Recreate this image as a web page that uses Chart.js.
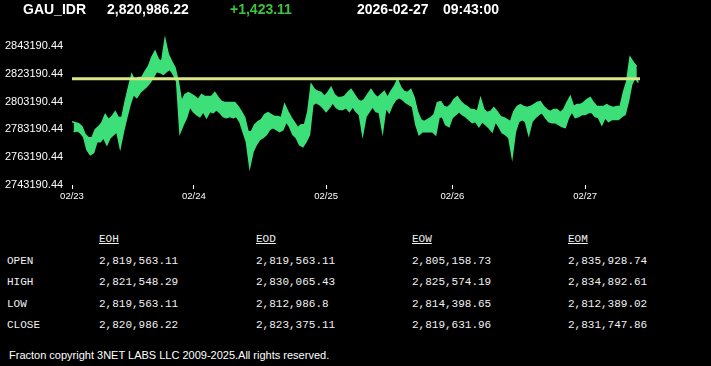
<!DOCTYPE html>
<html>
<head>
<meta charset="utf-8">
<title>GAU_IDR</title>
<script src="https://cdn.jsdelivr.net/npm/chart.js@4/dist/chart.umd.min.js"></script>
<style>
  html, body { margin: 0; padding: 0; background: #000; width: 711px; height: 366px; overflow: hidden; }
  body { position: relative; font-family: "Liberation Sans", Arial, sans-serif; color: #fff; }
  #chart { position: absolute; left: 0; top: 0; }
  .head { position: absolute; top: 2px; font-size: 14px; font-weight: bold; line-height: 14px; white-space: nowrap; }
  .cell { position: absolute; font-family: "Liberation Mono", "DejaVu Sans Mono", monospace; font-size: 11px; line-height: 11px; white-space: nowrap; color: #f2f2f2; }
  .cell.title { text-decoration: underline; }
  #footer { position: absolute; left: 9px; top: 350px; font-size: 11px; line-height: 11px; white-space: nowrap; }
</style>
</head>
<body>
<canvas id="chart" width="711" height="213"></canvas>
<div id="header"></div>
<div id="table"></div>
<div id="footer">Fracton copyright 3NET LABS LLC 2009-2025.All rights reserved.</div>

<script>
// Quote header
const symbol = 'GAU_IDR';
const lastPrice = '2,820,986.22';
const change = '+1,423.11';
const quoteDate = '2026-02-27';
const quoteTime = '09:43:00';

// Price band, read per slice of the chart: high and low of each slice
const sliceHigh = [
  2788750, 2788030, 2787310, 2785140, 2779370, 2777200, 2777200, 2782980, 2785140, 2788030,
  2793810, 2790200, 2792360, 2795970, 2791640, 2791640, 2803190, 2813300, 2822690, 2817630,
  2820520, 2820520, 2824850, 2828460, 2834960, 2839290, 2833520, 2832070, 2847960, 2837130,
  2832070, 2827740, 2817630, 2803190, 2808250, 2809690, 2808250, 2806800, 2804640, 2808250,
  2806800, 2806800, 2806800, 2809690, 2806080, 2803190, 2802470, 2802470, 2802470, 2802470,
  2799580, 2795970, 2791640, 2781530, 2781530, 2786590, 2788750, 2790200, 2793810, 2795250,
  2793810, 2792360, 2792360, 2791640, 2801030, 2795970, 2791640, 2788030, 2784420, 2786590,
  2786590, 2795970, 2815470, 2811860, 2810410, 2809690, 2806800, 2809690, 2813300, 2808250,
  2806080, 2806080, 2806800, 2809690, 2811860, 2808250, 2804640, 2803190, 2804640, 2808250,
  2811860, 2808250, 2806080, 2808250, 2810410, 2806080, 2810410, 2814020, 2819080, 2813300,
  2810410, 2809690, 2811860, 2806080, 2795970, 2790200, 2788750, 2790200, 2791640, 2793810,
  2802470, 2803190, 2799580, 2798860, 2801030, 2804640, 2806800, 2803190, 2801030, 2799580,
  2797420, 2797420, 2795970, 2805360, 2797420, 2795250, 2795970, 2798860, 2795970, 2792360,
  2791640, 2790200, 2788750, 2795970, 2799580, 2801030, 2799580, 2798860, 2799580, 2801030,
  2802470, 2803190, 2799580, 2797420, 2795970, 2797420, 2797420, 2795250, 2797420, 2802470,
  2806800, 2799580, 2801030, 2801030, 2802470, 2804640, 2806080, 2802470, 2799580, 2799580,
  2799580, 2801030, 2799580, 2798860, 2799580, 2799580, 2809690, 2817630, 2834960, 2831350,
  2828460
];
const sliceLow = [
  2781530, 2782250, 2780810, 2777920, 2768540, 2764930, 2766370, 2774310, 2774310, 2777200,
  2772150, 2777200, 2779370, 2781530, 2769980, 2781530, 2791640, 2801030, 2808250, 2806080,
  2809690, 2811860, 2814020, 2816910, 2820520, 2824850, 2824130, 2822690, 2824850, 2826300,
  2822690, 2817630, 2780810, 2786590, 2791640, 2799580, 2795970, 2793810, 2792360, 2795970,
  2791640, 2795970, 2795250, 2797420, 2795250, 2792360, 2791640, 2792360, 2791640, 2792360,
  2788750, 2781530, 2774310, 2756260, 2767090, 2772150, 2775760, 2777200, 2779370, 2782980,
  2784420, 2782980, 2781530, 2782980, 2788750, 2785140, 2779370, 2777200, 2772150, 2770700,
  2774310, 2779370, 2801030, 2802470, 2801030, 2798860, 2795970, 2798860, 2802470, 2798860,
  2797420, 2797420, 2798860, 2795970, 2799580, 2795970, 2793810, 2779370, 2792360, 2795970,
  2799580, 2795970, 2795250, 2781530, 2798860, 2795250, 2801030, 2804640, 2806080, 2804640,
  2802470, 2801030, 2799580, 2786590, 2779370, 2781530, 2781530, 2781530, 2781530, 2779370,
  2791640, 2792360, 2786590, 2785140, 2791640, 2793810, 2795970, 2793810, 2792360, 2790200,
  2788030, 2788750, 2785140, 2788750, 2786590, 2784420, 2781530, 2788750, 2785140, 2780810,
  2779370, 2777200, 2763480, 2781530, 2788750, 2790200, 2788750, 2779370, 2788750, 2791640,
  2793810, 2795250, 2791640, 2788750, 2788030, 2788030, 2786590, 2785140, 2784420, 2791640,
  2795970, 2791640, 2792360, 2793810, 2793810, 2795250, 2795250, 2792360, 2791640, 2786590,
  2791640, 2788750, 2790200, 2790200, 2790200, 2792360, 2793810, 2803190, 2815470, 2820520,
  2816910
];

// Reference level (hour open)
const openLevel = 2819563.11;

// Axes
const yTicks = [2743190.44, 2763190.44, 2783190.44, 2803190.44, 2823190.44, 2843190.44];
const yMin = 2743190.44;
const yMax = 2853190.44;
const dayLabels = ['02/23', '02/24', '02/25', '02/26', '02/27'];
const dayStartSlice = [0, 36.7, 76.5, 114.5, 154.5];
const lastSlice = 171;

// Summary table
const periods = ['EOH', 'EOD', 'EOW', 'EOM'];
const rowNames = ['OPEN', 'HIGH', 'LOW', 'CLOSE'];
const openValues = ['2,819,563.11', '2,819,563.11', '2,805,158.73', '2,835,928.74'];
const highValues = ['2,821,548.29', '2,830,065.43', '2,825,574.19', '2,834,892.61'];
const lowValues = ['2,819,563.11', '2,812,986.8', '2,814,398.65', '2,812,389.02'];
const closeValues = ['2,820,986.22', '2,823,375.11', '2,819,631.96', '2,831,747.86'];

const GREEN = '#3ddf78';

/**
 * Header line
 */
function renderHeader() {
  const header = document.getElementById('header');
  const parts = [
    { text: symbol, left: 23, color: '#fff' },
    { text: lastPrice, left: 107, color: '#fff' },
    { text: change, left: 230, color: '#3cc43c' },
    { text: quoteDate, left: 357, color: '#fff' },
    { text: quoteTime, left: 443, color: '#fff' },
  ];
  parts.forEach(p => {
    const div = document.createElement('div');
    div.className = 'head';
    div.style.left = p.left + 'px';
    div.style.color = p.color;
    div.textContent = p.text;
    header.appendChild(div);
  });
}

/**
 * OHLC table under the chart
 */
function renderTable() {
  const table = document.getElementById('table');
  const colLeft = [7, 99, 256, 412, 568];
  const rowTop = [234, 255.5, 277, 298.5, 320];
  const rows = [openValues, highValues, lowValues, closeValues];

  const addCell = (text, left, top, cls) => {
    const div = document.createElement('div');
    div.className = cls;
    div.style.left = left + 'px';
    div.style.top = top + 'px';
    div.textContent = text;
    table.appendChild(div);
  };

  periods.forEach((p, i) => addCell(p, colLeft[i + 1], rowTop[0], 'cell title'));
  rowNames.forEach((name, r) => {
    addCell(name, colLeft[0], rowTop[r + 1], 'cell');
    rows[r].forEach((v, i) => addCell(v, colLeft[i + 1], rowTop[r + 1], 'cell'));
  });
}

/**
 * Price chart: band filled between slice highs and lows
 */
function renderChart() {
  const highs = sliceHigh.map((v, i) => ({ x: i, y: v }));
  const lows = sliceLow.map((v, i) => ({ x: i + 0.5, y: v }));

  const ctx = document.getElementById('chart').getContext('2d');
  new Chart(ctx, {
    type: 'line',
    data: {
      datasets: [
        {
          label: 'Open',
          data: [{ x: 0, y: openLevel }, { x: lastSlice, y: openLevel }],
          borderColor: '#dbe783',
          borderWidth: 3,
          pointRadius: 0,
          order: 0,
        },
        {
          label: 'High',
          data: highs,
          borderColor: GREEN,
          borderWidth: 1.5,
          pointRadius: 0,
          tension: 0,
          fill: false,
          order: 1,
        },
        {
          label: 'Low',
          data: lows,
          borderColor: GREEN,
          backgroundColor: GREEN,
          borderWidth: 1.5,
          pointRadius: 0,
          tension: 0,
          fill: '-1',
          order: 2,
        },
      ],
    },
    options: {
      responsive: false,
      animation: false,
      devicePixelRatio: 1,
      layout: { padding: { left: 5, right: 71, top: 32, bottom: 0 } },
      plugins: { legend: { display: false }, tooltip: { enabled: false } },
      scales: {
        x: {
          type: 'linear',
          min: 0,
          max: lastSlice,
          afterBuildTicks: scale => { scale.ticks = dayStartSlice.map(v => ({ value: v })); },
          afterFit: scale => { scale.height = 28; },
          ticks: {
            color: '#fff',
            font: { family: 'Liberation Sans, Arial', size: 9.5 },
            padding: 2,
            maxRotation: 0,
            autoSkip: false,
            callback: (v, i) => dayLabels[i],
          },
          grid: { drawOnChartArea: false, drawTicks: true, tickLength: 4, color: '#fff', lineWidth: 1 },
          border: { display: false },
        },
        y: {
          type: 'linear',
          min: yMin,
          max: yMax,
          afterBuildTicks: scale => { scale.ticks = yTicks.map(v => ({ value: v })); },
          afterFit: scale => { scale.width = 67; },
          ticks: {
            color: '#fff',
            font: { family: 'Liberation Sans, Arial', size: 11 },
            crossAlign: 'far',
            callback: v => Number(v).toFixed(2),
          },
          grid: { display: false },
          border: { display: false },
        },
      },
    },
  });
}

renderHeader();
renderTable();
renderChart();
</script>
</body>
</html>
